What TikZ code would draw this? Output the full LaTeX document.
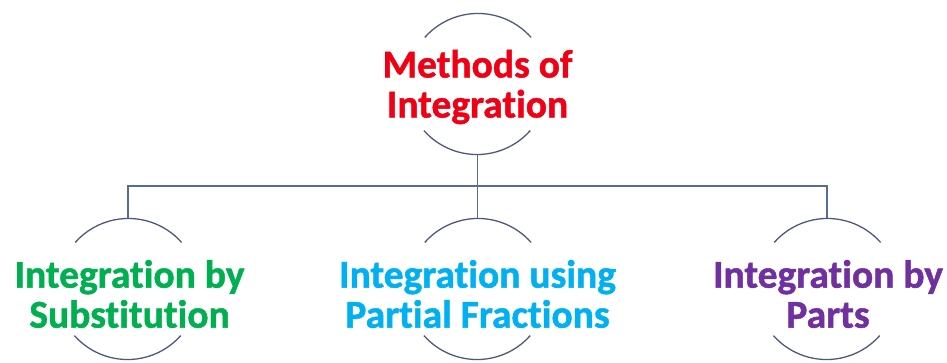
\documentclass[tikz,border=0pt]{standalone}
\usepackage{fontspec}
\setmainfont{Carlito}
\newfontfamily\heavyfont{Carlito Bold}[FakeBold=1.2, Ligatures=NoCommon]
\definecolor{arcc}{RGB}{78,88,122}
\definecolor{linkc}{RGB}{84,108,150}
\definecolor{cred}{RGB}{240,0,20}
\definecolor{cgreen}{RGB}{0,176,80}
\definecolor{ccyan}{RGB}{0,176,240}
\definecolor{cpurple}{RGB}{112,48,160}
\begin{document}
\begin{tikzpicture}[x=1pt,y=1pt,
  ring/.style={draw=none, circle, minimum size=142pt, inner sep=0pt, outer sep=0pt},
  arcline/.style={draw=arcc, line width=1.3pt},
  link/.style={draw=linkc, line width=1.5pt},
  lbl/.style={font=\heavyfont\fontsize{39.5}{40}\selectfont, align=center, inner sep=0pt}]
\useasboundingbox (0,0) rectangle (947,362);
\node[ring] (top) at (477.5,278) {};
\node[ring] (sub) at (128,73) {};
\node[ring] (pf) at (477.5,73) {};
\node[ring] (parts) at (827,73) {};
\foreach \n in {top,sub,pf,parts}{
  \draw[arcline] (\n.41.5) arc[start angle=41.5,end angle=138.5,radius=71];
  \draw[arcline] (\n.221.5) arc[start angle=221.5,end angle=318.5,radius=71];
}
\node[lbl, text=cred] (toptxt) at ([yshift=-3]top.center) {Methods of\\Integration};
\node[lbl, text=cgreen] (subtxt) at ([xshift=1.5,yshift=-5]sub.center) {Integration by\\Substitution};
\node[lbl, text=ccyan] (pftxt) at ([yshift=-5]pf.center) {Integration using\\Partial Fractions};
\node[lbl, text=cpurple] (partstxt) at ([xshift=1,yshift=-5]parts.center) {Integration by\\Parts};
\coordinate (bus) at (477.5,176);
\draw[link] (top.south) -- (pf.north);
\draw[link] (sub.north) |- (bus) -| (parts.north);
\end{tikzpicture}
\end{document}
